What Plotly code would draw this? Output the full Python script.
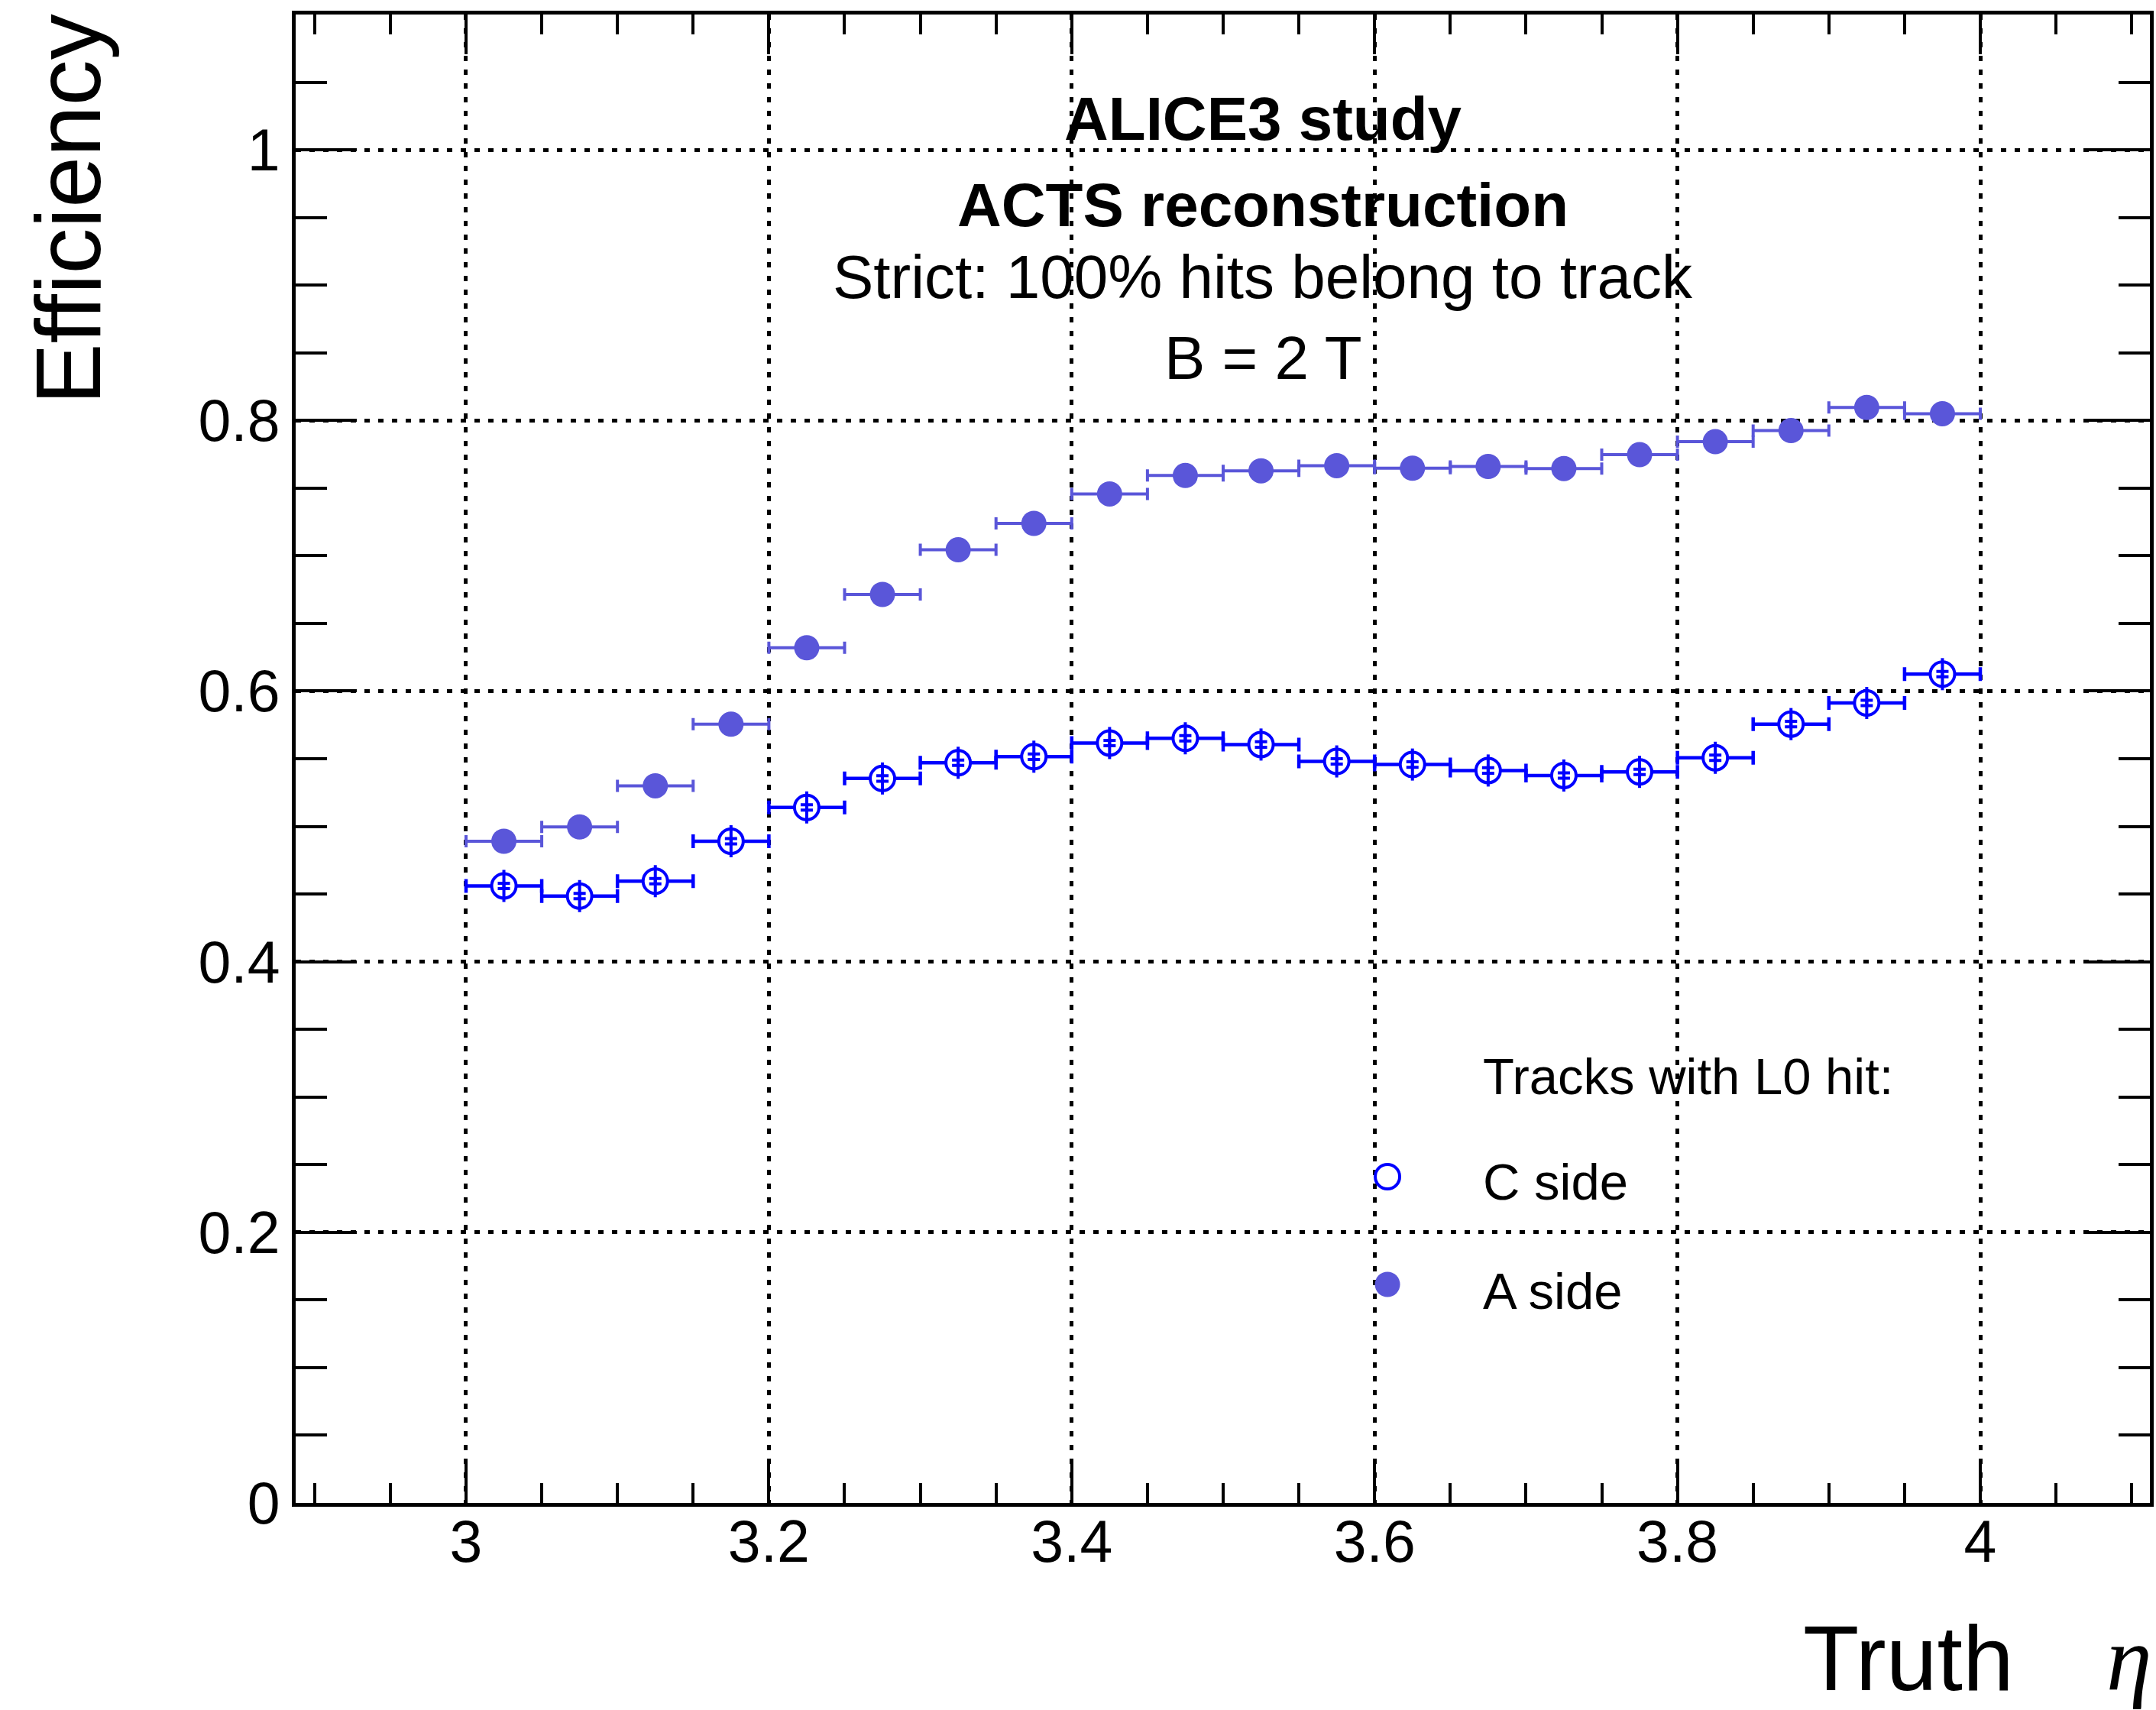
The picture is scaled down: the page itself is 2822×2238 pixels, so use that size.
import plotly.graph_objects as go

# Truth eta bin centres (bin width 0.05)
eta = [3.025, 3.075, 3.125, 3.175, 3.225, 3.275, 3.325, 3.375, 3.425, 3.475,
       3.525, 3.575, 3.625, 3.675, 3.725, 3.775, 3.825, 3.875, 3.925, 3.975]
eta_half_width = 0.025

# Efficiency, tracks with an L0 hit on the C side
eff_c = [0.456, 0.4485, 0.4595, 0.489, 0.514, 0.5354, 0.547, 0.5515, 0.5616, 0.5651,
         0.5605, 0.548, 0.5457, 0.5413, 0.5376, 0.5403, 0.5507, 0.5756, 0.5912, 0.6125]
err_c = [0.002, 0.002, 0.002, 0.002, 0.002, 0.002, 0.002, 0.002, 0.002, 0.002,
         0.002, 0.002, 0.002, 0.002, 0.002, 0.002, 0.002, 0.002, 0.002, 0.002]

# Efficiency, tracks with an L0 hit on the A side
eff_a = [0.489, 0.4996, 0.530, 0.5755, 0.632, 0.6714, 0.7044, 0.7239, 0.7457, 0.7593,
         0.7628, 0.7666, 0.7647, 0.766, 0.7645, 0.7747, 0.7843, 0.7925, 0.8096, 0.805]
err_a = [0.002, 0.002, 0.002, 0.002, 0.002, 0.002, 0.002, 0.002, 0.002, 0.002,
         0.002, 0.002, 0.002, 0.002, 0.002, 0.002, 0.002, 0.002, 0.002, 0.002]

x_tick_vals = [3.0, 3.2, 3.4, 3.6, 3.8, 4.0]
x_tick_text = ["3", "3.2", "3.4", "3.6", "3.8", "4"]
y_tick_vals = [0.0, 0.2, 0.4, 0.6, 0.8, 1.0]
y_tick_text = ["0", "0.2", "0.4", "0.6", "0.8", "1"]

header_lines = ["<b>ALICE3 study</b>", "<b>ACTS reconstruction</b>",
                "Strict: 100% hits belong to track", "B = 2 T"]
legend_title = "Tracks with L0 hit:"
legend_labels = ["C side", "A side"]

COL_C = "#0000ff"
COL_A = "#5a56d9"
FONT = "Liberation Sans, Arial, Helvetica, sans-serif"

W, H = 2822, 2238
ML, MR, MT, MB = 387, 3, 19, 271
PW, PH = W - ML - MR, H - MT - MB


def px_x(p):
    return (p - ML) / PW


def px_y(p):
    return (H - MB - p) / PH


fig = go.Figure()

# A side: filled circles with horizontal bin-width bars
fig.add_trace(go.Scatter(
    x=eta, y=eff_a, mode="markers", showlegend=False,
    marker=dict(symbol="circle", size=33, color=COL_A, line=dict(width=0)),
    error_x=dict(type="constant", value=eta_half_width, color=COL_A, thickness=4, width=8),
    error_y=dict(type="data", array=err_a, color=COL_A, thickness=4, width=8),
))

# C side: open circles (white interior hides the horizontal bar inside the marker)
fig.add_trace(go.Scatter(
    x=eta, y=eff_c, mode="markers", showlegend=False,
    marker=dict(symbol="circle", size=32, color="white", line=dict(width=4, color=COL_C)),
    error_x=dict(type="constant", value=eta_half_width, color=COL_C, thickness=4.5, width=9),
))
# C side: vertical statistical error inside the open marker
fig.add_trace(go.Scatter(
    x=eta, y=eff_c, mode="markers", showlegend=False,
    marker=dict(symbol="line-ns", size=30, color=COL_C, line=dict(width=4, color=COL_C)),
    error_y=dict(type="data", array=err_c, color=COL_C, thickness=4, width=8),
))

axis_common = dict(
    showline=True, linecolor="black", linewidth=5, mirror="allticks",
    ticks="inside", tickcolor="black", tickwidth=4,
    tickfont=dict(family=FONT, size=77, color="black"),
    showgrid=True, gridcolor="black", gridwidth=5, griddash="7px,11px",
    zeroline=False, tickmode="array",
)

fig.update_xaxes(
    **axis_common, range=[2.8875, 4.112], ticklen=52, ticklabelstandoff=-20,
    tickvals=x_tick_vals, ticktext=x_tick_text,
    minor=dict(tickmode="linear", tick0=2.9, dtick=0.05, ticklen=26, tickwidth=4,
               tickcolor="black", ticks="inside", showgrid=False),
)
fig.update_yaxes(
    **axis_common, range=[0, 1.1], ticklen=80,
    tickvals=y_tick_vals, ticktext=y_tick_text,
    minor=dict(tickmode="linear", tick0=0, dtick=0.05, ticklen=41, tickwidth=4,
               tickcolor="black", ticks="inside", showgrid=False),
)

annotations = []
header_y = [155, 268, 362, 469]
for txt, yp in zip(header_lines, header_y):
    annotations.append(dict(x=px_x(1656), y=px_y(yp), xref="paper", yref="paper",
                            text=txt, showarrow=False, xanchor="center", yanchor="middle",
                            font=dict(family=FONT, size=80, color="black")))

# axis titles
annotations.append(dict(x=px_x(88), y=px_y(274), xref="paper", yref="paper",
                        text="Efficiency", textangle=-90, showarrow=False,
                        xanchor="center", yanchor="middle",
                        font=dict(family=FONT, size=120, color="black")))
annotations.append(dict(x=px_x(2643), y=px_y(2170), xref="paper", yref="paper",
                        text="Truth", showarrow=False, xanchor="right", yanchor="middle",
                        font=dict(family=FONT, size=120, color="black")))
annotations.append(dict(x=px_x(2760), y=px_y(2170), xref="paper", yref="paper",
                        text="<i>η</i>", showarrow=False, xanchor="left", yanchor="middle",
                        font=dict(family="Liberation Serif, Times New Roman, serif",
                                  size=120, color="black")))

# legend block
annotations.append(dict(x=px_x(1942), y=px_y(1408), xref="paper", yref="paper",
                        text=legend_title, showarrow=False, xanchor="left", yanchor="middle",
                        font=dict(family=FONT, size=67, color="black")))
legend_text_y = [1546, 1689]
for txt, yp in zip(legend_labels, legend_text_y):
    annotations.append(dict(x=px_x(1942), y=px_y(yp), xref="paper", yref="paper",
                            text=txt, showarrow=False, xanchor="left", yanchor="middle",
                            font=dict(family=FONT, size=67, color="black")))

shapes = [
    dict(type="circle", xref="paper", yref="paper", xsizemode="pixel", ysizemode="pixel",
         xanchor=px_x(1819), yanchor=px_y(1540), x0=-16, x1=16, y0=-16, y1=16,
         line=dict(color=COL_C, width=4), fillcolor="rgba(0,0,0,0)"),
    dict(type="circle", xref="paper", yref="paper", xsizemode="pixel", ysizemode="pixel",
         xanchor=px_x(1819), yanchor=px_y(1681), x0=-16.5, x1=16.5, y0=-16.5, y1=16.5,
         line=dict(color=COL_A, width=0), fillcolor=COL_A),
]

fig.update_layout(
    width=W, height=H, autosize=False,
    margin=dict(l=ML, r=MR, t=MT, b=MB, pad=0),
    paper_bgcolor="white", plot_bgcolor="white",
    annotations=annotations, shapes=shapes, showlegend=False,
)

fig.write_html("out.html")
